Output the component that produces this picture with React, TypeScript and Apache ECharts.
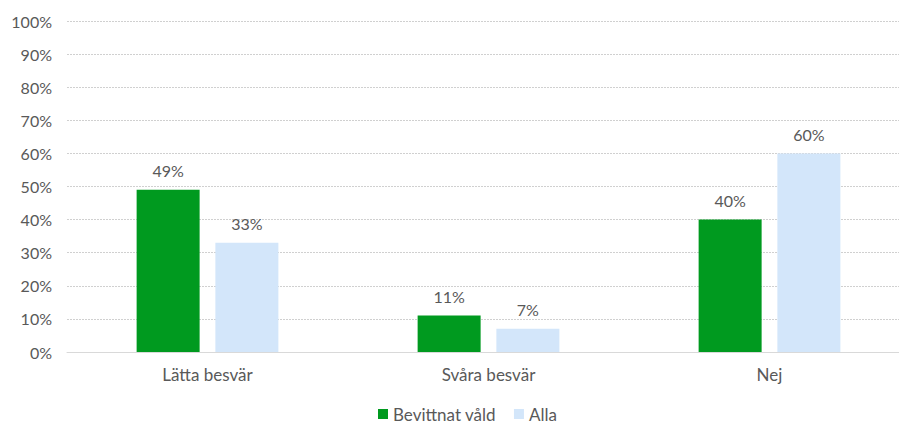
import React, { useEffect, useRef } from "react";
import * as echarts from "echarts";

const categories = ["Lätta besvär", "Svåra besvär", "Nej"];
const seriesNames = ["Bevittnat våld", "Alla"];
const bevittnat = [49, 11, 40];
const alla = [33, 7, 60];
const colors = ["#009A1F", "#D3E6FA"];

export default function App() {
  const ref = useRef<HTMLDivElement>(null);
  useEffect(() => {
    if (!ref.current) return;
    const chart = echarts.init(ref.current, null, { renderer: "svg" });
    const font = "Lato, 'Open Sans', sans-serif";
    const textColor = "#595959";
    const label = {
      show: true,
      position: "top" as const,
      distance: 11,
      formatter: "{c}%",
      color: textColor,
      fontFamily: font,
      fontSize: 16,
    };
    chart.setOption({
      animation: false,
      backgroundColor: "#ffffff",
      textStyle: { fontFamily: font },
      grid: { left: 67, top: 21, width: 843, height: 331 },
      legend: {
        top: 404,
        left: 378,
        padding: 0,
        itemWidth: 10,
        itemHeight: 10,
        itemGap: 18,
        icon: "rect",
        textStyle: { color: textColor, fontFamily: font, fontSize: 17, lineHeight: 20 },
        data: seriesNames,
      },
      xAxis: {
        type: "category",
        data: categories,
        axisLine: { show: true, lineStyle: { color: "#d9d9d9" } },
        axisTick: { show: false },
        axisLabel: { color: textColor, fontFamily: font, fontSize: 17, margin: 14 },
      },
      yAxis: {
        type: "value",
        min: 0,
        max: 100,
        interval: 10,
        axisLine: { show: false },
        axisTick: { show: false },
        axisLabel: {
          formatter: "{value}%",
          color: textColor,
          fontFamily: font,
          fontSize: 16,
          margin: 15,
        },
        splitLine: { lineStyle: { color: "#d0d0d0", type: [2, 1], width: 1 } },
      },
      series: [
        {
          name: seriesNames[0],
          type: "bar",
          data: bevittnat,
          barWidth: 63,
          barGap: "25%",
          itemStyle: { color: colors[0] },
          label,
        },
        {
          name: seriesNames[1],
          type: "bar",
          data: alla,
          barWidth: 63,
          itemStyle: { color: colors[1] },
          label,
        },
      ],
    });
    return () => chart.dispose();
  }, []);
  return (
    <div style={{ position: "absolute", left: 0, top: 0, width: 899, height: 424, overflow: "hidden" }}>
      <div ref={ref} style={{ width: 915, height: 424 }} />
    </div>
  );
}
